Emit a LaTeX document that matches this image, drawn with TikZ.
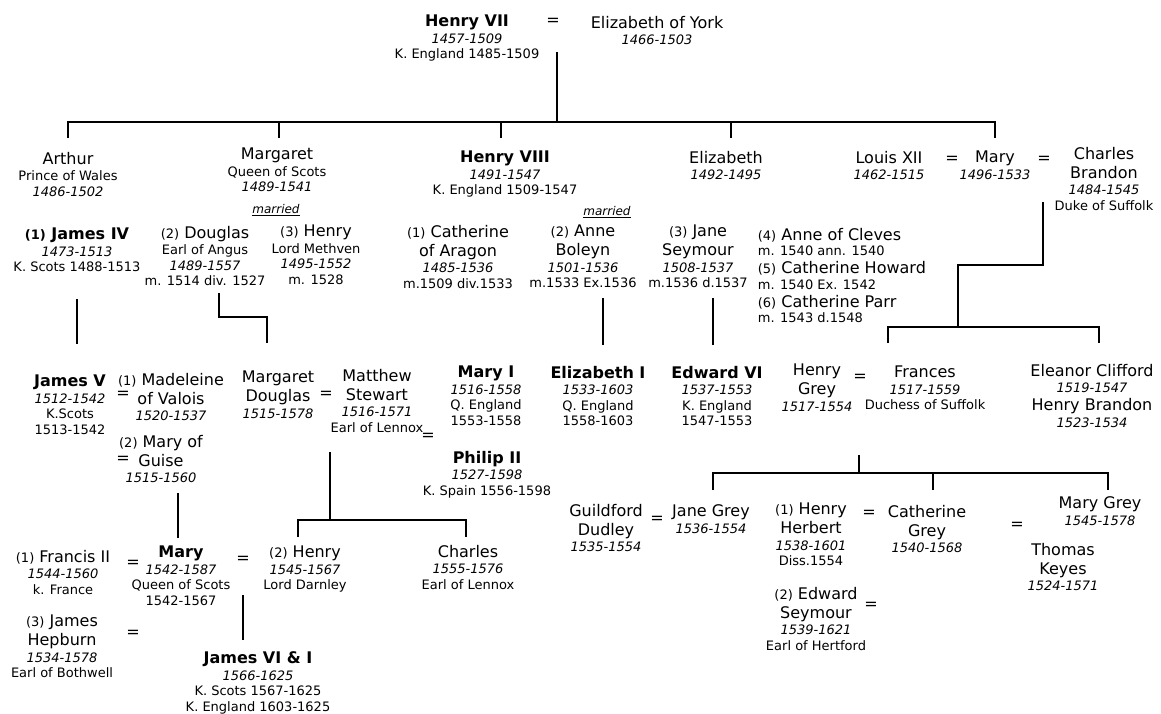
\documentclass[tikz,border=0pt]{standalone}
\usepackage{fontspec}
\setmainfont{DejaVu Sans}[ItalicFont={DejaVu Sans Oblique},BoldItalicFont={DejaVu Sans Bold Oblique}]
\newcommand\nm{\fontsize{16}{15.5}\selectfont}
\newcommand\sm{\fontsize{13}{15.5}\selectfont}
\newcommand\marr{{\fontsize{12}{14}\selectfont\underline{\textit{married}}}}

\begin{document}
\begin{tikzpicture}[x=1pt,y=-1pt,line width=1.8pt,
        person/.style={anchor=north,align=center,inner sep=0pt,font=\sm},
        wed/.style={font=\nm,inner sep=0pt}]
        \useasboundingbox (0,0) rectangle (1161,713);

        \node[person] (hvii) at (467,14) {{\nm\bfseries Henry VII}\\[1pt]\textit{1457-1509}\\K. England 1485-1509};
        \node[wed] (w1) at (553,22) {=};
        \node[person] (eyork) at (657,15) {{\nm Elizabeth of York}\\[1pt]\textit{1466-1503}};

        \node[person] (arthur) at (68,151) {{\nm Arthur}\\[1pt]Prince of Wales\\\textit{1486-1502}};
        \node[person] (margaret) at (277,147) {{\nm Margaret}\\[1pt]Queen of Scots\\\textit{1489-1541}};
        \node[person] (henryviii) at (505,150) {{\nm\bfseries Henry VIII}\\[1pt]\textit{1491-1547}\\K. England 1509-1547};
        \node[person] (elizabeth) at (726,150) {{\nm Elizabeth}\\[1pt]\textit{1492-1495}};
        \node[person] (louis) at (889,150) {{\nm Louis XII}\\[1pt]\textit{1462-1515}};
        \node[wed] (w2) at (952,160) {=};
        \node[person] (mary) at (995,150) {{\nm Mary}\\[1pt]\textit{1496-1533}};
        \node[wed] (w3) at (1044,160) {=};
        \node[person] (brandon) at (1104,146) {{\nm Charles}\\[3.5pt]{\nm Brandon}\\[1pt]\textit{1484-1545}\\Duke of Suffolk};

        \node (married1) at (276,210) {\marr};
        \node[person] (jamesiv) at (77,227) {{\nm\bfseries{\sm(1)} James IV}\\[1pt]\textit{1473-1513}\\K. Scots 1488-1513};
        \node[person] (douglas) at (205,225) {{\nm{\sm(2)} Douglas}\\[1pt]Earl of Angus\\\textit{1489-1557}\\m. 1514 div. 1527};
        \node[person] (methven) at (316,224) {{\nm{\sm(3)} Henry}\\[1pt]Lord Methven\\\textit{1495-1552}\\m. 1528};

        \node (married2) at (607,212) {\marr};
        \node[person] (aragon) at (458,224) {{\nm{\sm(1)} Catherine}\\[3.5pt]{\nm of Aragon}\\[1pt]\textit{1485-1536}\\m.1509 div.1533};
        \node[person] (boleyn) at (583,224) {{\nm{\sm(2)} Anne}\\[3.5pt]{\nm Boleyn}\\[1pt]\textit{1501-1536}\\m.1533 Ex.1536};
        \node[person] (seymour) at (698,224) {{\nm{\sm(3)} Jane}\\[3.5pt]{\nm Seymour}\\[1pt]\textit{1508-1537}\\m.1536 d.1537};
        \node[person,anchor=north west,align=left] (wives) at (757,227) {{\nm{\sm(4)} Anne of Cleves}\\m. 1540 ann. 1540\\[2.5pt]{\nm{\sm(5)} Catherine Howard}\\m. 1540 Ex. 1542\\[2.5pt]{\nm{\sm(6)} Catherine Parr}\\m. 1543 d.1548};

        \node[person] (jamesv) at (70,374) {{\nm\bfseries James V}\\[1pt]\textit{1512-1542}\\K.Scots\\1513-1542};
        \node[person] (madeleine) at (171,372) {{\nm{\sm(1)} Madeleine}\\[3.5pt]{\nm of Valois}\\[1pt]\textit{1520-1537}};
        \node[wed] (w4) at (123,395) {=};
        \node[person] (guise) at (161,434) {{\nm{\sm(2)} Mary of}\\[3.5pt]{\nm Guise}\\[1pt]\textit{1515-1560}};
        \node[wed] (w5) at (123,460) {=};
        \node[person] (mdouglas) at (278,370) {{\nm Margaret}\\[3.5pt]{\nm Douglas}\\[1pt]\textit{1515-1578}};
        \node[wed] (w6) at (326,395) {=};
        \node[person] (stewart) at (377,368) {{\nm Matthew}\\[3.5pt]{\nm Stewart}\\[1pt]\textit{1516-1571}\\Earl of Lennox};
        \node[wed] (w7) at (428,437) {=};
        \node[person] (maryi) at (486,365) {{\nm\bfseries Mary I}\\[1pt]\textit{1516-1558}\\Q. England\\1553-1558};
        \node[person] (philip) at (487,450) {{\nm\bfseries Philip II}\\[1pt]\textit{1527-1598}\\K. Spain 1556-1598};
        \node[person] (elizi) at (598,365) {{\nm\bfseries Elizabeth I}\\[1pt]\textit{1533-1603}\\Q. England\\1558-1603};
        \node[person] (edwardvi) at (717,365) {{\nm\bfseries Edward VI}\\[1pt]\textit{1537-1553}\\K. England\\1547-1553};
        \node[person] (hgrey) at (817,363) {{\nm Henry}\\[3.5pt]{\nm Grey}\\[1pt]\textit{1517-1554}};
        \node[wed] (w8) at (860,378) {=};
        \node[person] (frances) at (925,365) {{\nm Frances}\\[1pt]\textit{1517-1559}\\Duchess of Suffolk};
        \node[person] (clifford) at (1092,363) {{\nm Eleanor Clifford}\\[1pt]\textit{1519-1547}\\[2.5pt]{\nm Henry Brandon}\\[1pt]\textit{1523-1534}};

        \node[person] (francis) at (63,549) {{\nm{\sm(1)} Francis II}\\[1pt]\textit{1544-1560}\\k. France};
        \node[wed] (w9) at (133,564) {=};
        \node[person] (maryqs) at (181,545) {{\nm\bfseries Mary}\\[1pt]\textit{1542-1587}\\Queen of Scots\\1542-1567};
        \node[wed] (w10) at (243,560) {=};
        \node[person] (darnley) at (305,545) {{\nm{\sm(2)} Henry}\\[1pt]\textit{1545-1567}\\Lord Darnley};
        \node[person] (charles) at (468,544) {{\nm Charles}\\[1pt]\textit{1555-1576}\\Earl of Lennox};
        \node[person] (hepburn) at (62,614) {{\nm{\sm(3)} James}\\[3.5pt]{\nm Hepburn}\\[1pt]\textit{1534-1578}\\Earl of Bothwell};
        \node[wed] (w11) at (133,634) {=};
        \node[person] (jamesvi) at (258,651) {{\nm\bfseries James VI \& I}\\[1pt]\textit{1566-1625}\\K. Scots 1567-1625\\K. England 1603-1625};

        \node[person] (dudley) at (606,503) {{\nm Guildford}\\[3.5pt]{\nm Dudley}\\[1pt]\textit{1535-1554}};
        \node[wed] (w12) at (657,520) {=};
        \node[person] (janegrey) at (711,504) {{\nm Jane Grey}\\[1pt]\textit{1536-1554}};
        \node[person] (herbert) at (811,502) {{\nm{\sm(1)} Henry}\\[3.5pt]{\nm Herbert}\\[1pt]\textit{1538-1601}\\Diss.1554};
        \node[wed] (w13) at (869,514) {=};
        \node[person] (cgrey) at (927,504) {{\nm Catherine}\\[3.5pt]{\nm Grey}\\[1pt]\textit{1540-1568}};
        \node[wed] (w14) at (1017,526) {=};
        \node[person] (marygrey) at (1100,496) {{\nm Mary Grey}\\[1pt]\textit{1545-1578}};
        \node[person] (keyes) at (1063,542) {{\nm Thomas}\\[3.5pt]{\nm Keyes}\\[1pt]\textit{1524-1571}};
        \node[person] (eseymour) at (816,586) {{\nm{\sm(2)} Edward}\\[3.5pt]{\nm Seymour}\\[1pt]\textit{1539-1621}\\Earl of Hertford};
        \node[wed] (w15) at (871,606) {=};

        \coordinate (tudor) at (557,52);
        \coordinate (tudorbar) at (557,122);
        \coordinate (up-arthur) at (68,138);
        \coordinate (up-margaret) at (279,138);
        \coordinate (up-henryviii) at (501,138);
        \coordinate (up-elizabeth) at (731,138);
        \coordinate (up-mary) at (995,138);
        \draw (tudor) -- (tudorbar);
        \draw (up-arthur) |- (tudorbar) -| (up-mary);
        \foreach \k in {margaret,henryviii,elizabeth}
                \draw (up-\k) -- (up-\k |- tudorbar);

        \coordinate (suffolk) at (1043,202);
        \coordinate (suffolkbend) at (958,265);
        \coordinate (suffolkbar) at (958,327);
        \coordinate (up-frances) at (888,343);
        \coordinate (up-clifford) at (1099,343);
        \draw (suffolk) |- (suffolkbend) -- (suffolkbar);
        \draw (up-frances) |- (suffolkbar) -| (up-clifford);

        \coordinate (stuart) at (77,299);
        \coordinate (up-jamesv) at (77,344);
        \draw (stuart) -- (up-jamesv);
        \coordinate (angus) at (219,293);
        \coordinate (up-mdouglas) at (267,343);
        \draw (angus) |- (up-mdouglas |- 0,317) -- (up-mdouglas);

        \coordinate (boleyn-d) at (603,298);
        \coordinate (up-elizi) at (603,345);
        \draw (boleyn-d) -- (up-elizi);
        \coordinate (seymour-d) at (713,298);
        \coordinate (up-edwardvi) at (713,345);
        \draw (seymour-d) -- (up-edwardvi);

        \coordinate (guise-d) at (178,493);
        \coordinate (up-maryqs) at (178,538);
        \draw (guise-d) -- (up-maryqs);

        \coordinate (lennox) at (330,452);
        \coordinate (lennoxbar) at (330,520);
        \coordinate (up-darnley) at (298,537);
        \coordinate (up-charles) at (466,537);
        \draw (lennox) -- (lennoxbar);
        \draw (up-darnley) |- (lennoxbar) -| (up-charles);

        \coordinate (darnley-d) at (243,595);
        \coordinate (up-jamesvi) at (243,640);
        \draw (darnley-d) -- (up-jamesvi);

        \coordinate (grey) at (859,455);
        \coordinate (greybar) at (859,473);
        \coordinate (up-janegrey) at (713,490);
        \coordinate (up-cgrey) at (933,490);
        \coordinate (up-marygrey) at (1108,490);
        \draw (grey) -- (greybar);
        \draw (up-janegrey) |- (greybar) -| (up-marygrey);
        \draw (up-cgrey) -- (up-cgrey |- greybar);
\end{tikzpicture}
\end{document}
